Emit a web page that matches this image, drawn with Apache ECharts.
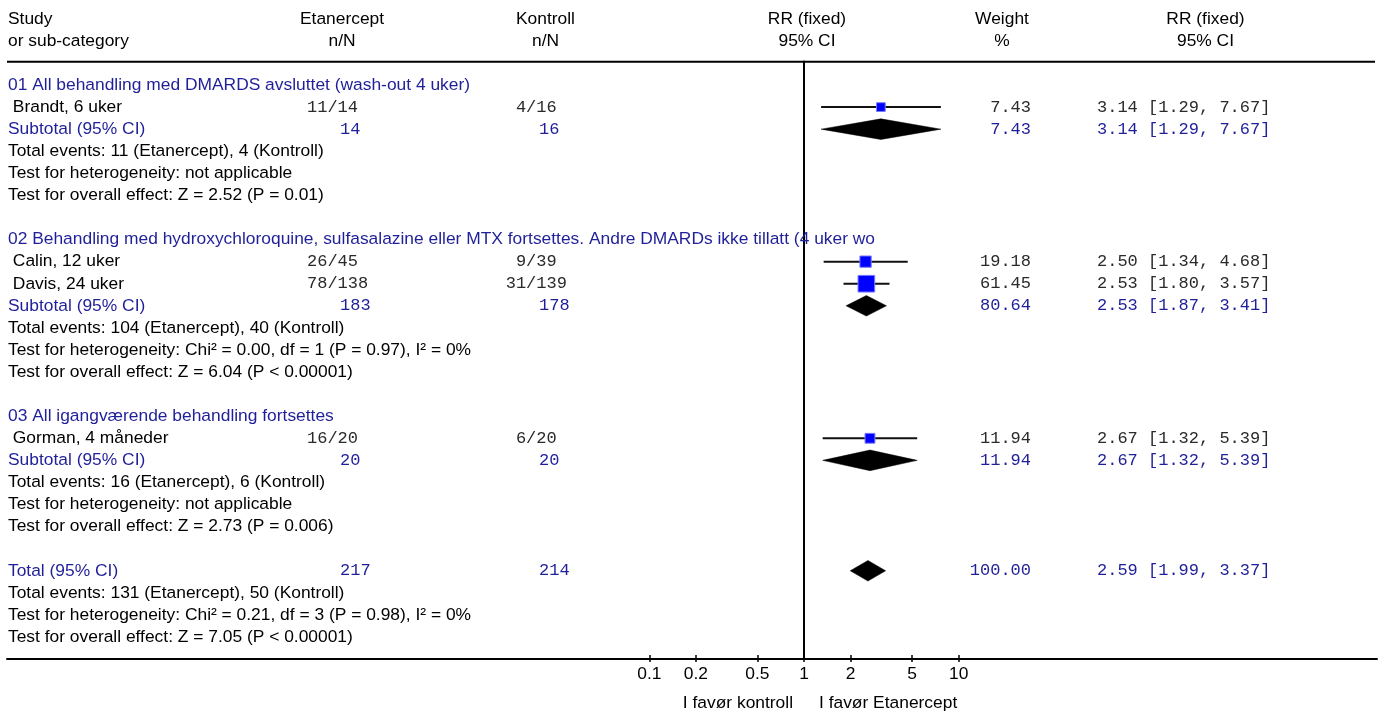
<!DOCTYPE html>
<html><head><meta charset="utf-8">
<script src="https://cdn.jsdelivr.net/npm/echarts@6/dist/echarts.min.js"></script>
<style>html,body{margin:0;padding:0;background:#fff}#c{width:1384px;height:713px}</style>
</head><body><div id="c"></div>
<script>
// ---------- data ----------
const headerTop = ['Study', 'Etanercept', 'Kontroll', 'RR (fixed)', 'Weight', 'RR (fixed)'];
const headerBottom = ['or sub-category', 'n/N', 'n/N', '95% CI', '%', '95% CI'];
const groupTitles = [
  '01 All behandling med DMARDS avsluttet (wash-out 4 uker)',
  '02 Behandling med hydroxychloroquine, sulfasalazine eller MTX fortsettes. Andre DMARDs ikke tillatt (4 uker wo',
  '03 All igangværende behandling fortsettes'
];
const studyNames = ['Brandt, 6 uker', 'Calin, 12 uker', 'Davis, 24 uker', 'Gorman, 4 måneder'];
const studyGroup = [0, 1, 1, 2];
const studyEventsE = [11, 26, 78, 16];
const studyTotalE = [14, 45, 138, 20];
const studyEventsC = [4, 9, 31, 6];
const studyTotalC = [16, 39, 139, 20];
const studyWeight = [7.43, 19.18, 61.45, 11.94];
const studyRR = [3.14, 2.50, 2.53, 2.67];
const studyLow = [1.29, 1.34, 1.80, 1.32];
const studyHigh = [7.67, 4.68, 3.57, 5.39];
const subTotalE = [14, 183, 20];
const subTotalC = [16, 178, 20];
const subWeight = [7.43, 80.64, 11.94];
const subRR = [3.14, 2.53, 2.67];
const subLow = [1.29, 1.87, 1.32];
const subHigh = [7.67, 3.41, 5.39];
const subEvents = [
  'Total events: 11 (Etanercept), 4 (Kontroll)',
  'Total events: 104 (Etanercept), 40 (Kontroll)',
  'Total events: 16 (Etanercept), 6 (Kontroll)'
];
const subHetero = [
  'Test for heterogeneity: not applicable',
  'Test for heterogeneity: Chi² = 0.00, df = 1 (P = 0.97), I² = 0%',
  'Test for heterogeneity: not applicable'
];
const subEffect = [
  'Test for overall effect: Z = 2.52 (P = 0.01)',
  'Test for overall effect: Z = 6.04 (P < 0.00001)',
  'Test for overall effect: Z = 2.73 (P = 0.006)'
];
const totalLabel = 'Total (95% CI)';
const totalN = [217, 214];
const totalWeight = 100.00;
const totalRR = [2.59, 1.99, 3.37];
const totalTexts = [
  'Total events: 131 (Etanercept), 50 (Kontroll)',
  'Test for heterogeneity: Chi² = 0.21, df = 3 (P = 0.98), I² = 0%',
  'Test for overall effect: Z = 7.05 (P < 0.00001)'
];
const tickLabels = [0.1, 0.2, 0.5, 1, 2, 5, 10];
const favourLabels = ['I favør kontroll', 'I favør Etanercept'];

// ---------- layout ----------
const X_MIN = -5.1519, X_MAX = 3.7039, Y_MIN = -3.8496, Y_MAX = 25.996;
const SANS = '"Liberation Sans", Arial, sans-serif';
const MONO = '"Liberation Mono", "Courier New", monospace';
const BLUE = '#1f1f99';
const NUMC = '#2a2a2a';
const FS = 17.4, FM = 17;
const COL = {label: 8, studyE: 307, studyC: 505.7, subE: 340, subC: 539, weightR: 1031, rrL: 1097};
const HEAD_X = [8, 342, 545.5, 807, 1002, 1205.5];

// ---------- build rows ----------
const rows = [];
for (let g = 0; g < groupTitles.length; g++) {
  rows.push({type: 'group', g});
  studyNames.forEach((n, s) => { if (studyGroup[s] === g) rows.push({type: 'study', s}); });
  rows.push({type: 'sub', g});
  rows.push({type: 'info', text: subEvents[g]});
  rows.push({type: 'info', text: subHetero[g]});
  rows.push({type: 'info', text: subEffect[g]});
  rows.push({type: 'blank'});
}
rows.push({type: 'total'});
totalTexts.forEach(t => rows.push({type: 'info', text: t}));

const textItems = [{type: 'header', line: 0, row: -3}, {type: 'header', line: 1, row: -2}];
rows.forEach((r, i) => { r.row = i; textItems.push(r); });
textItems.push({type: 'favour', row: 28});

const ciData = [], sqData = [], diaData = [];
rows.forEach(r => {
  if (r.type === 'study') {
    ciData.push([Math.log10(studyLow[r.s]), Math.log10(studyHigh[r.s]), r.row]);
    sqData.push([Math.log10(studyRR[r.s]), r.row, studyWeight[r.s]]);
  } else if (r.type === 'sub') {
    diaData.push([Math.log10(subLow[r.g]), Math.log10(subRR[r.g]), Math.log10(subHigh[r.g]), r.row]);
  } else if (r.type === 'total') {
    diaData.push([Math.log10(totalRR[1]), Math.log10(totalRR[0]), Math.log10(totalRR[2]), r.row]);
  }
});

const nN = (n, N) => String(n).padStart(2, ' ') + '/' + N;
const rrStr = (a, b, c) => a.toFixed(2) + ' [' + b.toFixed(2) + ', ' + c.toFixed(2) + ']';

function T(x, y, text, o) {
  o = o || {};
  const align = o.align || 'left';
  return {type: 'text', x: x, y: y, silent: true, style: {
    text: text, fill: o.color || '#000', fontSize: o.mono ? FM : FS,
    fontFamily: o.mono ? MONO : SANS, align: align, textAlign: align,
    verticalAlign: 'middle', textVerticalAlign: 'middle'
  }};
}

function renderText(params, api) {
  const it = textItems[params.dataIndex];
  const y = api.coord([0, api.value(1)])[1];
  const ch = [];
  if (it.type === 'header') {
    const arr = it.line === 0 ? headerTop : headerBottom;
    arr.forEach((t, k) => ch.push(T(HEAD_X[k], y, t, {align: k === 0 ? 'left' : 'center'})));
  } else if (it.type === 'group') {
    ch.push(T(COL.label, y, groupTitles[it.g], {color: BLUE}));
  } else if (it.type === 'study') {
    const s = it.s;
    ch.push(T(COL.label, y, ' ' + studyNames[s]));
    ch.push(T(COL.studyE, y, nN(studyEventsE[s], studyTotalE[s]), {mono: true, color: NUMC}));
    ch.push(T(COL.studyC, y, nN(studyEventsC[s], studyTotalC[s]), {mono: true, color: NUMC}));
    ch.push(T(COL.weightR, y, studyWeight[s].toFixed(2), {mono: true, color: NUMC, align: 'right'}));
    ch.push(T(COL.rrL, y, rrStr(studyRR[s], studyLow[s], studyHigh[s]), {mono: true, color: NUMC}));
  } else if (it.type === 'sub') {
    const g = it.g;
    ch.push(T(COL.label, y, 'Subtotal (95% CI)', {color: BLUE}));
    ch.push(T(COL.subE, y, String(subTotalE[g]), {mono: true, color: BLUE}));
    ch.push(T(COL.subC, y, String(subTotalC[g]), {mono: true, color: BLUE}));
    ch.push(T(COL.weightR, y, subWeight[g].toFixed(2), {mono: true, color: BLUE, align: 'right'}));
    ch.push(T(COL.rrL, y, rrStr(subRR[g], subLow[g], subHigh[g]), {mono: true, color: BLUE}));
  } else if (it.type === 'total') {
    ch.push(T(COL.label, y, totalLabel, {color: BLUE}));
    ch.push(T(COL.subE, y, String(totalN[0]), {mono: true, color: BLUE}));
    ch.push(T(COL.subC, y, String(totalN[1]), {mono: true, color: BLUE}));
    ch.push(T(COL.weightR, y, totalWeight.toFixed(2), {mono: true, color: BLUE, align: 'right'}));
    ch.push(T(COL.rrL, y, rrStr(totalRR[0], totalRR[1], totalRR[2]), {mono: true, color: BLUE}));
  } else if (it.type === 'info') {
    ch.push(T(COL.label, y, it.text));
  } else if (it.type === 'favour') {
    const x1 = api.coord([0, 0])[0];
    ch.push(T(x1 - 11, y, favourLabels[0], {align: 'right'}));
    ch.push(T(x1 + 15, y, favourLabels[1], {align: 'left'}));
  }
  return {type: 'group', children: ch};
}

const tickL = tickLabels.map(v => Math.log10(v));
const fmtTick = v => String(Number(Math.pow(10, v).toPrecision(2)));

const chart = echarts.init(document.getElementById('c'));
chart.setOption({
  animation: false,
  backgroundColor: '#fff',
  grid: {left: 7, right: 7, top: 0, bottom: 54, containLabel: false},
  xAxis: [{
    type: 'value', min: X_MIN, max: X_MAX, position: 'bottom',
    axisLine: {show: true, onZero: false, lineStyle: {color: '#000', width: 2}},
    axisTick: {show: true, customValues: tickL, length: 3, lineStyle: {color: '#000', width: 1.5}},
    axisLabel: {show: true, customValues: tickL, formatter: fmtTick, margin: 7,
      color: '#000', fontSize: FS, fontFamily: SANS},
    splitLine: {show: false}
  }, {
    type: 'value', min: X_MIN, max: X_MAX, position: 'bottom', offset: 0,
    axisLine: {show: false, onZero: false},
    axisTick: {show: true, inside: true, customValues: tickL, length: 4, lineStyle: {color: '#000', width: 1.5}},
    axisLabel: {show: false},
    splitLine: {show: false}
  }],
  yAxis: {type: 'value', min: Y_MIN, max: Y_MAX, inverse: true, show: false},
  series: [
    {
      type: 'custom', name: 'frame', silent: true, data: [[0, 0]],
      renderItem: function (params, api) {
        const top = api.coord([0, -1.05]);
        const bot = api.coord([0, Y_MAX]);
        const l = api.coord([X_MIN, -1.05]);
        const r = api.coord([X_MAX, -1.05]);
        return {type: 'group', children: [
          {type: 'line', shape: {x1: top[0], y1: top[1] - 1, x2: bot[0], y2: bot[1]}, style: {stroke: '#000', lineWidth: 2}},
          {type: 'line', shape: {x1: l[0], y1: l[1], x2: r[0] - 2, y2: r[1]}, style: {stroke: '#000', lineWidth: 2}}
        ]};
      }
    },
    {
      type: 'custom', name: 'text', silent: true,
      data: textItems.map(it => [0, it.row]),
      encode: {x: 0, y: 1},
      renderItem: renderText
    },
    {
      type: 'custom', name: 'ci', silent: true, data: ciData,
      encode: {x: [0, 1], y: 2},
      renderItem: function (params, api) {
        const p1 = api.coord([api.value(0), api.value(2)]);
        const p2 = api.coord([api.value(1), api.value(2)]);
        return {type: 'line', shape: {x1: p1[0], y1: p1[1], x2: p2[0], y2: p2[1]}, style: {stroke: '#111', lineWidth: 2}};
      }
    },
    {
      type: 'scatter', name: 'study', silent: true, data: sqData, z: 5,
      symbol: 'rect',
      symbolSize: v => 4.5 + 1.55 * Math.sqrt(v[2]),
      itemStyle: {color: '#0000ff', borderColor: '#7a7aff', borderWidth: 1, opacity: 1}
    },
    {
      type: 'custom', name: 'diamond', silent: true, data: diaData,
      encode: {x: [0, 1, 2], y: 3},
      renderItem: function (params, api) {
        const r = api.value(3);
        const a = api.coord([api.value(0), r]);
        const m = api.coord([api.value(1), r]);
        const b = api.coord([api.value(2), r]);
        const h = 10.3;
        return {type: 'polygon', shape: {points: [[a[0], a[1]], [m[0], m[1] - h], [b[0], b[1]], [m[0], m[1] + h]]},
          style: {fill: '#000', stroke: '#000', lineWidth: 0.5}};
      }
    }
  ]
});
</script>
</body></html>
